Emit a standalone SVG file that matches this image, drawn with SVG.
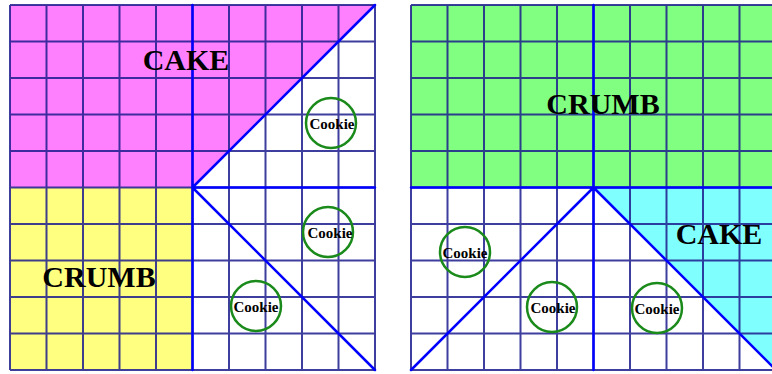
<svg xmlns="http://www.w3.org/2000/svg" width="772" height="374" viewBox="0 0 772 374">
<style>
.grid{fill:none;stroke:#1c1c8e;stroke-opacity:0.85;stroke-width:2}
.main{fill:none;stroke:#0000ff;stroke-width:2.5;stroke-linecap:round}
.lbl{font-family:"Liberation Serif",serif;font-weight:bold;font-size:30px;fill:#000;text-anchor:middle}
.ck circle{fill:none;stroke:#1a8a1a;stroke-width:2.5}
.ck text{font-family:"Liberation Serif",serif;font-weight:bold;font-size:15px;fill:#000;text-anchor:middle}
</style>
<rect width="772" height="374" fill="#fff"/>
<g id="left-panel">
<polygon points="10,5 375,5 192.5,187.5 10,187.5" fill="#ff80ff"/>
<rect x="10" y="187.5" width="182.5" height="182.5" fill="#ffff80"/>
<path class="grid" d="M10 5V370M46.5 5V370M83 5V370M119.5 5V370M156 5V370M192.5 5V370M229 5V370M265.5 5V370M302 5V370M338.5 5V370M375 5V370M10 5H375M10 41.5H375M10 78H375M10 114.5H375M10 151H375M10 187.5H375M10 224H375M10 260.5H375M10 297H375M10 333.5H375M10 370H375"/>
<path class="main" d="M192.5 5V370M192.5 187.5H375M192.5 187.5L375 5M192.5 187.5L375 370"/>
<text class="lbl" x="186" y="70">CAKE</text>
<text class="lbl" x="99" y="287">CRUMB</text>
</g>
<g id="right-panel">
<rect x="411" y="5" width="365" height="182.5" fill="#80ff80"/>
<polygon points="593.5,187.5 776,187.5 776,370" fill="#80ffff"/>
<path class="grid" d="M411 5V370M447.5 5V370M484 5V370M520.5 5V370M557 5V370M593.5 5V370M630 5V370M666.5 5V370M703 5V370M739.5 5V370M776 5V370M411 5H776M411 41.5H776M411 78H776M411 114.5H776M411 151H776M411 187.5H776M411 224H776M411 260.5H776M411 297H776M411 333.5H776M411 370H776"/>
<path class="main" d="M593.5 5V370M411 187.5H776M593.5 187.5L411 370M593.5 187.5L776 370"/>
<text class="lbl" x="603" y="114">CRUMB</text>
<text class="lbl" x="719" y="244">CAKE</text>
</g>
<g id="cookie-1" class="ck"><circle cx="331" cy="123" r="25"/><text x="332" y="128.5">Cookie</text></g>
<g id="cookie-2" class="ck"><circle cx="328" cy="232" r="25"/><text x="330" y="237.5">Cookie</text></g>
<g id="cookie-3" class="ck"><circle cx="256" cy="306" r="25"/><text x="256" y="311.5">Cookie</text></g>
<g id="cookie-4" class="ck"><circle cx="465" cy="252" r="25"/><text x="465" y="257.5">Cookie</text></g>
<g id="cookie-5" class="ck"><circle cx="552" cy="307" r="25"/><text x="553" y="312.5">Cookie</text></g>
<g id="cookie-6" class="ck"><circle cx="657" cy="308" r="25"/><text x="657" y="313.5">Cookie</text></g>
</svg>
